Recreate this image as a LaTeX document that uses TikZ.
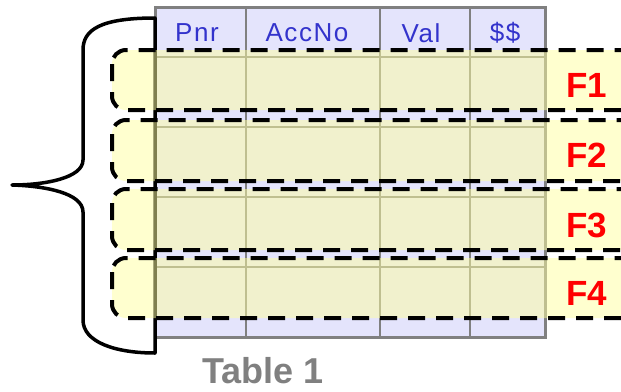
\documentclass[tikz,border=0pt]{standalone}
\usepackage{fontspec}
\setmainfont{Liberation Sans}
\newfontfamily\headfont[LetterSpace=6]{Liberation Sans}
\definecolor{lav}{RGB}{228,228,252}
\definecolor{tgray}{RGB}{128,128,128}
\definecolor{hblue}{RGB}{51,51,204}
\definecolor{fyellow}{RGB}{255,255,160}

\begin{document}
\begin{tikzpicture}[x=1pt,y=-1pt,
  tablelines/.style={draw=tgray,line width=2.5pt},
  frag/.style={fill=fyellow,fill opacity=0.5,draw=black,draw opacity=1,line width=4pt,dash pattern=on 17pt off 11pt,rounded corners=14pt},
  head/.style={text=hblue,font=\headfont\fontsize{26}{26}\selectfont,inner sep=0pt},
  flabel/.style={text=red,font=\bfseries\fontsize{35}{35}\selectfont,inner sep=0pt}]
\useasboundingbox (0,0) rectangle (621,391);
\fill [lav] (155,7) rectangle (545,337);
\foreach \y in {57,127,197,267}
  \draw [tablelines] (155,\y) -- (545,\y);
\foreach \x in {246,380,470}
  \draw [tablelines] (\x,7) -- (\x,337);
\draw [tablelines,line width=3pt] (155,7) rectangle (545,337);
\draw [black,line width=3.5pt,line join=round] (155,18) .. controls (100,18) and (83,30) .. (83,50) -- (83,160) .. controls (83,178) and (45,185) .. (12,185) .. controls (45,186) and (83,193) .. (83,212) -- (83,320) .. controls (83,342) and (115,353) .. (155,353) -- cycle;
\draw [frag] (112,50) rectangle (650,110);
\draw [frag] (112,120) rectangle (650,181);
\draw [frag] (112,189) rectangle (650,250);
\draw [frag] (112,258) rectangle (650,318);
\node [head] (pnr) at (197,33) {Pnr};
\node [head] (accno) at (307,33) {AccNo};
\node [head] (val) at (421,33) {Val};
\node [head] (money) at (505,33) {\$\$};
\node [flabel] (f1) at (587,85) {F1};
\node [flabel] (f2) at (587,155) {F2};
\node [flabel] (f3) at (587,225) {F3};
\node [flabel] (f4) at (587,293) {F4};
\node [text=tgray,font=\bfseries\fontsize{36}{36}\selectfont,inner sep=0pt] (tname) at (263,371) {Table 1};
\end{tikzpicture}
\end{document}
